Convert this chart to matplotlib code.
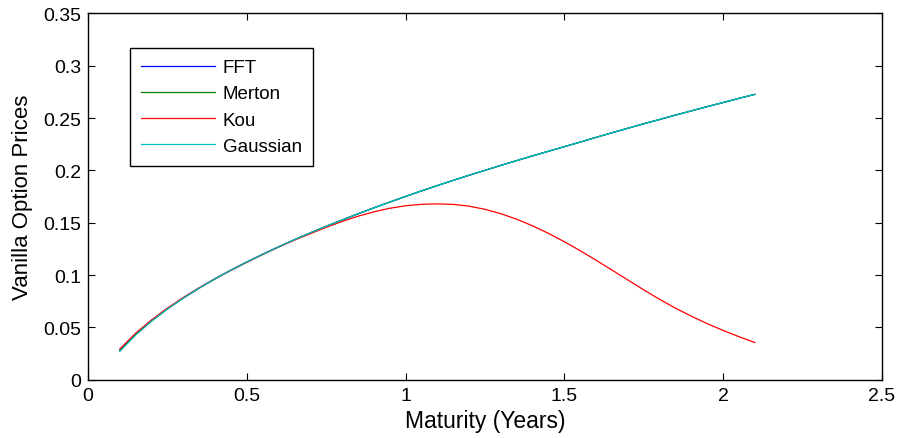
import matplotlib
matplotlib.use("Agg")
import matplotlib.pyplot as plt

plt.rcParams['font.family'] = ['Liberation Sans', 'DejaVu Sans']

maturity = [0.10, 0.15, 0.20, 0.25, 0.30, 0.35, 0.40, 0.45, 0.50, 0.55,
            0.60, 0.65, 0.70, 0.75, 0.80, 0.85, 0.90, 0.95, 1.00, 1.05,
            1.10, 1.15, 1.20, 1.25, 1.30, 1.35, 1.40, 1.45, 1.50, 1.55,
            1.60, 1.65, 1.70, 1.75, 1.80, 1.85, 1.90, 1.95, 2.00, 2.05,
            2.10]

price_fft = [0.0283, 0.0437, 0.0566, 0.0679, 0.0782, 0.0877, 0.0965, 0.1047, 0.1125, 0.1199,
             0.1270, 0.1338, 0.1403, 0.1466, 0.1526, 0.1585, 0.1642, 0.1697, 0.1751, 0.1804,
             0.1855, 0.1905, 0.1954, 0.2001, 0.2048, 0.2094, 0.2139, 0.2183, 0.2227, 0.2271,
             0.2316, 0.2360, 0.2403, 0.2446, 0.2487, 0.2529, 0.2569, 0.2610, 0.2649, 0.2689,
             0.2727]

price_merton = [0.0276, 0.0430, 0.0560, 0.0676, 0.0779, 0.0875, 0.0963, 0.1045, 0.1123, 0.1197,
                0.1268, 0.1338, 0.1403, 0.1466, 0.1526, 0.1585, 0.1642, 0.1697, 0.1751, 0.1804,
                0.1855, 0.1905, 0.1954, 0.2001, 0.2048, 0.2094, 0.2139, 0.2183, 0.2227, 0.2271,
                0.2316, 0.2360, 0.2403, 0.2446, 0.2487, 0.2529, 0.2569, 0.2610, 0.2649, 0.2689,
                0.2727]

price_kou = [0.0293, 0.0444, 0.0571, 0.0684, 0.0785, 0.0878, 0.0965, 0.1046, 0.1123, 0.1197,
             0.1268, 0.1334, 0.1395, 0.1456, 0.1512, 0.1562, 0.1604, 0.1638, 0.1662, 0.1676,
             0.1680, 0.1675, 0.1658, 0.1628, 0.1586, 0.1533, 0.1470, 0.1398, 0.1318, 0.1232,
             0.1141, 0.1047, 0.0952, 0.0858, 0.0767, 0.0683, 0.0606, 0.0535, 0.0470, 0.0410,
             0.0354]

price_gaussian = [0.0270, 0.0427, 0.0559, 0.0675, 0.0779, 0.0875, 0.0965, 0.1047, 0.1125, 0.1199,
                  0.1270, 0.1338, 0.1403, 0.1466, 0.1526, 0.1585, 0.1642, 0.1697, 0.1751, 0.1804,
                  0.1855, 0.1905, 0.1954, 0.2001, 0.2048, 0.2094, 0.2139, 0.2183, 0.2227, 0.2271,
                  0.2316, 0.2360, 0.2403, 0.2446, 0.2487, 0.2529, 0.2569, 0.2610, 0.2649, 0.2689,
                  0.2727]

series = [
    ("FFT", price_fft, (0, 0, 1)),
    ("Merton", price_merton, (0, 0.5, 0)),
    ("Kou", price_kou, (1, 0, 0)),
    ("Gaussian", price_gaussian, (0, 0.75, 0.75)),
]

x_ticks = [0, 0.5, 1, 1.5, 2, 2.5]
x_tick_labels = ["0", "0.5", "1", "1.5", "2", "2.5"]
y_ticks = [0, 0.05, 0.1, 0.15, 0.2, 0.25, 0.3, 0.35]
y_tick_labels = ["0", "0.05", "0.1", "0.15", "0.2", "0.25", "0.3", "0.35"]

fig = plt.figure(figsize=(8.99, 4.39), dpi=100)
ax = fig.add_axes([0.098, 0.133, 0.883, 0.834])

for name, values, color in series:
    ax.plot(maturity, values, color=color, linewidth=0.9, label=name)

ax.set_xlim(0, 2.5)
ax.set_ylim(0, 0.35)
ax.set_xticks(x_ticks)
ax.set_xticklabels(x_tick_labels)
ax.set_yticks(y_ticks)
ax.set_yticklabels(y_tick_labels)
ax.tick_params(direction='in', top=True, right=True, length=5, width=0.8,
               labelsize=14, pad=5, colors='black')
for spine in ax.spines.values():
    spine.set_linewidth(1.0)
    spine.set_color('black')

ax.set_xlabel("Maturity (Years)", fontsize=16.5, labelpad=4)
ax.set_ylabel("Vanilla Option Prices", fontsize=16, labelpad=7)

leg = ax.legend(loc='upper left', bbox_to_anchor=(0.053, 0.906), borderaxespad=0,
                fancybox=False, edgecolor='black', framealpha=1, fontsize=13.5,
                handlelength=3.9, handletextpad=0.45, labelspacing=0.48,
                borderpad=0.6)
leg.get_frame().set_linewidth(1.0)

fig.savefig("out.png", dpi=100)
